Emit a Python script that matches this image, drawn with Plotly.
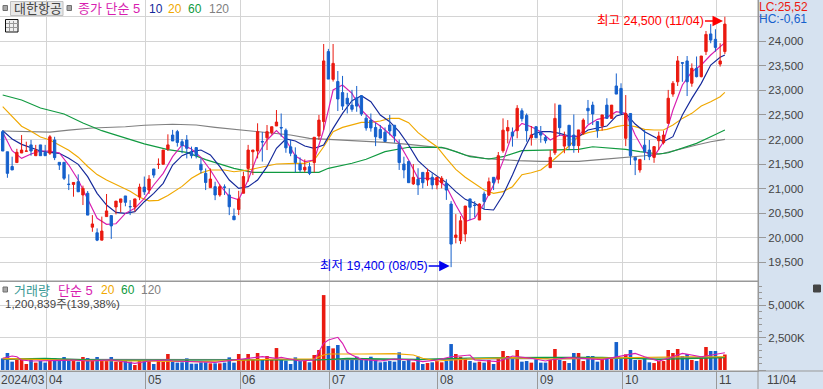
import plotly.graph_objects as go

open_ = [22160,21750,21450,21530,21725,21760,21890,21670,21890,21740,
21720,21990,21535,21535,21090,21085,21140,20870,20905,20215,
20100,19950,20430,20450,20625,20720,20850,20635,20625,20830,
21030,20970,21400,21490,21495,21805,22090,22160,21955,21990,
21740,21835,21495,21310,21020,21040,20870,21035,20870,20440,
20575,20905,21410,21750,21765,21960,22035,22140,22275,22245,
22190,21850,21685,21500,21380,21445,21530,22070,22365,23790,
23225,23180,22955,22840,22700,22850,22890,22435,22395,22245,
22205,22150,22295,22290,21895,21500,21550,21095,21190,21330,
21175,21230,21075,21120,21105,20685,20005,19940,20075,20790,
20665,20360,20890,20870,21230,21190,21770,22175,22150,22180,
22585,22490,22035,22260,22145,22045,21425,21730,22700,21865,
22290,22090,21875,22125,22635,22700,22365,22275,22700,22430,
23090,23040,22025,22530,21635,21380,21885,21785,21635,21975,
21935,22330,22925,23175,23565,23600,23145,23450,23280,23790,
24150,24040,23535,23790]
high = [22190,21750,21650,21810,22090,21955,21990,21890,21890,21890,
22090,22055,21535,21535,21290,21125,21290,21060,20950,20460,
20190,20430,20890,20450,20745,20790,20850,20765,20790,21100,
21245,21275,21400,21615,21785,22105,22195,22195,22010,22090,
21855,21835,21615,21410,21410,21140,21085,21085,21005,20595,
20955,21345,21890,21785,22330,22150,22295,22260,22600,22530,
22225,21990,21840,21635,21595,21530,22045,22500,23945,23845,
23945,23395,23295,22950,23010,23090,22905,22500,22530,22340,
22295,22245,22500,22295,22000,21650,21570,21500,21415,21330,
21405,21310,21230,21255,21190,20745,20480,20440,20645,20790,
20745,20700,20940,21225,21230,21745,22430,22395,22245,22700,
22635,22530,22275,22275,22275,22090,21785,22735,22700,22160,
22290,22510,22195,22430,22805,22770,22365,22500,22840,22700,
23345,23145,22905,22530,21635,21595,22195,21990,21855,22160,
22180,23010,23190,23700,23565,23700,23550,23690,23700,24210,
24350,24245,23960,24500]
low = [21765,21220,21380,21530,21725,21760,21670,21670,21670,21670,
21685,21580,21380,21175,20970,20835,20935,20665,20460,20120,
19930,19950,20430,19975,20475,20515,20640,20460,20530,20765,
20870,20890,21220,21400,21495,21765,21970,21855,21720,21615,
21615,21615,21310,20970,21020,20765,20835,20870,20460,20365,
20460,20905,21140,21275,21615,21550,21785,22100,22275,22055,
21730,21660,21330,21330,21330,21275,21330,21990,22195,23230,
23180,22580,22600,22530,22565,22565,22480,22180,22160,21865,
22025,21950,22085,21935,21380,21210,21120,21075,20870,21005,
21055,20985,20985,21005,20770,19400,19885,19870,19920,20360,
20415,20360,20585,20850,20970,21105,21730,21920,21855,22025,
22365,21955,21875,22035,21935,21920,21425,21685,22070,21720,
21785,21730,21730,22095,22315,22295,22035,22180,22430,22430,
22925,22530,21865,21480,21275,21325,21580,21580,21525,21785,
21900,22330,22870,23090,23175,22885,23075,23265,23265,23720,
23960,23790,23485,23740]
close = [21765,21310,21380,21740,21785,21765,21765,21785,21670,21670,
22055,21630,21480,21210,21085,21125,20935,21005,20460,20280,
19950,20135,20545,20240,20745,20790,20720,20630,20790,21030,
20935,21195,21275,21495,21785,21890,21970,21940,21875,21820,
21670,21670,21380,21125,21195,20870,21040,21025,20630,20365,
20790,21245,21785,21785,22160,21950,22160,22260,22355,22235,
21830,21720,21530,21380,21435,21310,22045,22395,23600,23230,
23550,22825,22680,22725,22615,22680,22520,22235,22235,22055,
22030,21960,22175,22070,21530,21380,21120,21230,21075,21120,
21330,21075,21230,21210,20970,19870,20055,20345,20645,20620,
20655,20685,20735,21140,21120,21670,22190,22245,22070,22635,
22425,22180,22090,22035,22090,21975,21635,22430,22240,22070,
21875,21875,22195,22395,22585,22520,22180,22500,22430,22700,
22925,22530,22530,21670,21580,21595,21750,21650,21855,22070,
22090,22840,23145,23600,23555,23175,23450,23280,23700,24140,
24025,23875,23600,24350]
volume_k = [900,1315,645,775,850,465,775,570,695,570,
695,905,695,1005,850,695,645,1005,930,720,
1005,720,695,1005,645,645,695,645,390,695,
695,695,465,775,645,1240,645,570,595,905,
490,490,595,595,515,515,515,570,980,570,
1240,775,1240,775,1315,775,1085,850,1700,775,
720,465,980,695,695,595,1160,1550,5800,1860,
1675,1935,775,905,905,1030,775,850,1030,775,
595,645,695,645,1370,695,775,595,1030,465,
540,595,695,595,695,2010,1240,1030,905,695,
570,645,570,775,465,905,1470,1085,905,1550,
645,695,570,825,570,570,775,1625,775,695,
540,1315,1315,695,1085,1085,645,850,850,850,
2165,850,1210,1550,775,775,905,595,540,695,
695,1550,1315,1625,1085,1240,775,695,1030,1780,
1470,1470,1030,1200]

ma5_x = list(range(0, 153, 2)) + [153]
ma5 = [22146,21772,21616,21704,21765,21765,21725,21480,21175,20788,20394,20272,20285,20496,20597,20801,21073,21310,21650,21888,
21806,21636,21378,21073,20835,20774,21175,21684,21990,22180,21989,21663,21549,21582,22193,23008,23110,22940,22600,22410,
22274,22112,21921,21583,21209,21209,21189,21039,20666,20327,20394,20700,21073,21560,22125,22329,22261,22159,21989,22091,
22057,22071,22295,22410,22451,22566,22532,22091,21752,21650,21955,22600,23110,23381,23517,23720,23890,23972]
ma10_x = list(range(0, 153, 2)) + [153]
ma10 = [22180,22010,21901,21833,21765,21738,21718,21616,21494,21243,20903,20665,20516,20496,20530,20733,20903,21107,21480,21670,
21752,21786,21684,21446,21175,21005,21039,21175,21446,21820,22010,21969,21867,21820,21887,22227,22533,22790,22892,22770,
22498,22363,22159,21887,21569,21392,21257,21121,20938,20781,20700,20578,20564,20870,21277,21718,22091,22159,22159,22125,
22071,22057,22193,22240,22274,22478,22532,22315,22159,22057,21955,22057,22498,22838,23143,23517,23673,23720]
ma20_x = [0,2,4,6,8,10,12,14,16,18,20,22,24,27,29,31,33,35,38,40,42,44,47,49,52,54,56,58,60,62,64,66,68,70,72,74,76,78,80,82,84,86,88,90,92,94,96,98,100,102,104,106,108,110,112,114,116,118,120,122,124,126,128,130,132,134,136,138,140,142,144,146,148,150,152,153]
ma20 = [22668,22470,22270,22170,22050,21990,21880,21780,21640,21450,21285,21175,21085,20945,20825,20750,20760,20860,21045,21210,21320,21378,21378,21344,21378,21426,21460,21500,21515,21515,21515,21580,21853,22159,22247,22295,22349,22349,22376,22430,22430,22342,22139,21989,21853,21616,21392,21230,21094,20972,20904,20938,21039,21283,21324,21378,21527,21704,21867,22071,22139,22179,22206,22261,22295,22261,22206,22193,22193,22295,22430,22532,22682,22770,22872,22960]
ma60_x = [0,4,8,13,17,21,23,26,30,35,39,43,46,49,53,57,67,69,74,77,81,86,93,96,99,103,106,110,116,122,125,127,132,135,139,141,144,147,150,153]
ma60 = [22906,22804,22640,22519,22336,22180,22120,22030,21910,21795,21738,21590,21494,21412,21331,21331,21331,21413,21515,21596,21752,21841,21841,21752,21650,21603,21650,21772,21785,21799,21853,21840,21799,21752,21704,21731,21820,21921,22057,22193]
ma120_x = [0,4,10,14,19,26,30,36,41,45,49,55,61,65,69,76,81,86,91,94,98,102,105,109,114,122,127,132,136,140,144,147,150,153]
ma120 = [22173,22159,22150,22190,22235,22260,22290,22310,22295,22248,22207,22159,22091,22023,22003,21969,21942,21901,21853,21820,21684,21616,21596,21569,21555,21555,21595,21636,21670,21718,21820,21887,21955,22003]

vma5_x = [0,2,3,4,6,10,13,15,18,23,28,31,35,36,42,45,49,52,55,58,59,60,63,66,67,68,69,71,72,73,74,76,80,83,87,89,92,95,99,100,105,108,112,115,116,120,127,130,134,136,139,141,144,148,151,153]
vma5 = [905,1085,1030,775,695,695,750,775,695,775,515,695,775,695,595,595,775,905,1030,905,980,905,695,775,1470,2065,2320,2530,2065,1370,1160,825,695,850,775,645,775,1030,1160,775,645,1085,905,695,775,955,800,1030,1290,1030,695,905,1290,1030,1240,1340]
vma20_x = [0,14,28,42,58,66,68,69,76,83,87,89,92,99,108,115,116,123,130,137,144,153]
vma20 = [905,750,695,645,850,850,1160,1240,1240,1265,1160,905,695,850,955,905,850,905,955,980,1030,1030]
vma60_x = [0,9,21,35,58,67,73,88,99,115,127,139,153]
vma60 = [850,905,750,775,775,775,905,825,930,980,980,825,955]
vma120_x = [0,30,58,60,88,115,116,153]
vma120 = [825,825,825,850,800,905,850,980]

price_ticks = [19500,20000,20500,21000,21500,22000,22500,23000,23500,24000,24500]
price_labels = ["19,500","20,000","20,500","21,000","21,500","22,000","22,500","23,000","23,500","24,000",""]
vol_ticks = [0,2500,5000]
vol_labels = ["","2,500K","5,000K"]
vol_minor = [500,1000,1500,2000,3000,3500,4000,4500,5500,6000,6500]
month_pos = [9.36,30.3,50.3,69.3,92.2,113.4,131.4,151.3]
month_names = ["04","05","06","07","08","09","10","11"]
n = len(close)
xs = list(range(n))

RED = "#ea1a10"
BLUE = "#1560cc"
MAG = "#d81eb0"
NAVY = "#14289a"
ORG = "#f0a800"
GRN = "#109a40"
GRY = "#808080"
AXIS = "#999999"
GRID = "#d4d4d4"
TXT = "#444444"
FONT = "Liberation Sans, Noto Sans CJK KR"

fig = go.Figure()
def line(x, y, color, xa, ya):
    fig.add_trace(go.Scatter(x=x, y=y, mode="lines", line=dict(color=color, width=1.15),
                             xaxis=xa, yaxis=ya, showlegend=False, hoverinfo="skip"))

for xv, yv, c in [(ma120_x, ma120, GRY), (ma60_x, ma60, GRN), (ma20_x, ma20, ORG), (ma10_x, ma10, NAVY), (ma5_x, ma5, MAG)]:
    line(xv, yv, c, "x2", "y")

fig.add_trace(go.Candlestick(x=xs, open=open_, high=high, low=low, close=close,
    increasing=dict(line=dict(color=RED, width=1), fillcolor=RED),
    decreasing=dict(line=dict(color=BLUE, width=1), fillcolor=BLUE),
    whiskerwidth=0, xaxis="x3", yaxis="y3", showlegend=False, hoverinfo="skip"))

bar_colors = [RED if c >= o else BLUE for o, c in zip(open_, close)]
fig.add_trace(go.Bar(x=xs, y=volume_k, marker=dict(color=bar_colors, line=dict(width=0)), width=0.76,
                     xaxis="x", yaxis="y2", showlegend=False, hoverinfo="skip"))
for xv, yv, c in [(vma120_x, vma120, GRY), (vma60_x, vma60, GRN), (vma20_x, vma20, ORG), (vma5_x, vma5, MAG)]:
    line(xv, yv, c, "x", "y2")

X_RANGE = [-0.572, 160.02]
P_RANGE = [19118, 24841]
V_RANGE = [-77, 6890]
bottom_frac = 90 / 371
common_x = dict(range=X_RANGE, tickmode="array", tickvals=month_pos, showgrid=True, gridcolor=GRID,
                gridwidth=1, zeroline=False, showticklabels=False)

fig.update_layout(
    width=823, height=389, margin=dict(l=0, r=65, t=0, b=18),
    paper_bgcolor="#d6e2f0", plot_bgcolor="#ffffff",
    font=dict(family=FONT, size=12, color=TXT), showlegend=False, barmode="overlay",
    xaxis=dict(**common_x, domain=[0, 1], anchor="y2", ticks="outside", ticklen=18, tickcolor=AXIS, tickwidth=1,
               showline=True, linecolor=AXIS, linewidth=1),
    xaxis2=dict(**common_x, domain=[0, 1], anchor="y", ticks="", showline=True, linecolor=AXIS, linewidth=1),
    xaxis3=dict(range=X_RANGE, domain=[0, 1], anchor="y3", visible=False, overlaying="x2", rangeslider=dict(visible=False)),
    yaxis=dict(domain=[bottom_frac, 1], range=P_RANGE, side="right", anchor="x2", tickmode="array",
               tickvals=price_ticks, ticktext=price_labels, showgrid=True, gridcolor=GRID, zeroline=False,
               ticks="outside", ticklen=7, tickcolor=AXIS, showline=True, linecolor=AXIS,
               tickfont=dict(size=11.5, color=TXT, family=FONT)),
    yaxis3=dict(domain=[bottom_frac, 1], range=P_RANGE, side="right", anchor="x3", overlaying="y", visible=False),
    yaxis2=dict(domain=[0, bottom_frac], range=V_RANGE, side="right", anchor="x", tickmode="array",
                tickvals=vol_ticks, ticktext=vol_labels, showgrid=True, gridcolor=GRID, zeroline=False,
                ticks="outside", ticklen=7, tickcolor=AXIS, showline=True, linecolor=AXIS,
                tickfont=dict(size=11.5, color=TXT, family=FONT),
                minor=dict(tickmode="array", tickvals=vol_minor, ticks="outside", ticklen=3, tickcolor=AXIS, showgrid=False)),
)

W, H = 758.0, 371.0
def px(x): return x / W
def py(y): return 1 - y / H

shapes = [
    dict(type="line", xref="paper", yref="paper", x0=1, x1=1, y0=py(389), y1=1, line=dict(color=AXIS, width=1)),
    dict(type="line", xref="paper", yref="paper", x0=0, x1=823 / W, y0=py(371), y1=py(371), line=dict(color=AXIS, width=1)),
    dict(type="line", xref="paper", yref="paper", x0=0, x1=1, y0=py(281), y1=py(281), line=dict(color=AXIS, width=1)),
]
def box(x0, y0, x1, y1, fill, edge, w=1):
    shapes.append(dict(type="rect", xref="paper", yref="paper", x0=px(x0), x1=px(x1), y0=py(y1), y1=py(y0),
                       fillcolor=fill, line=dict(color=edge, width=w), layer="above"))
box(3, 5.5, 7.5, 10.5, "#a8a8a8", "#707070")
box(10.5, 1.5, 63, 15.5, "#e8e8e8", "#c0c0c0")
box(67, 5.5, 71.5, 10.5, "#a8a8a8", "#707070")
box(3, 287, 7.5, 292, "#a8a8a8", "#707070")
box(5.5, 19.5, 18, 32, "#f0f0f0", "#111111")
for gx in (9.5, 13.5):
    shapes.append(dict(type="line", xref="paper", yref="paper", x0=px(gx), x1=px(gx), y0=py(31), y1=py(21), line=dict(color="#999999", width=1), layer="above"))
for gy in (23.5, 27.5):
    shapes.append(dict(type="line", xref="paper", yref="paper", x0=px(6), x1=px(18), y0=py(gy), y1=py(gy), line=dict(color="#999999", width=1), layer="above"))
box(813.5, 285, 820.5, 292, "#444444", "#444444")
fig.update_layout(shapes=shapes)

def label(text, x, y, color, anchor="left", size=12):
    fig.add_annotation(text=text, xref="paper", yref="paper", x=px(x), y=py(y), xanchor=anchor, yanchor="middle",
                       showarrow=False, font=dict(color=color, size=size, family=FONT), borderpad=0, borderwidth=0)

label("대한항공", 13.5, 8.5, TXT, size=13)
label("종가 단순 5", 78, 8.5, MAG, size=13)
label("10", 149, 8.5, NAVY)
label("20", 168, 8.5, ORG)
label("60", 188, 8.5, GRN)
label("120", 209, 8.5, GRY)
label("거래량", 14, 290, "#3a9a96", size=13)
label("단순 5", 58, 290, MAG, size=13)
label("20", 101, 290, ORG)
label("60", 121, 290, GRN)
label("120", 141, 290, GRY)
label("1,200,839주(139,38%)", 5, 304, TXT, size=11.5)
label("LC:25,52", 759, 7.5, RED)
label("HC:-0,61", 759, 18.5, BLUE)
label("11/04", 767, 380, TXT)
label("2024/03", 1, 380, TXT)
for pos, name in zip(month_pos, month_names):
    fig.add_annotation(text=name, xref="x", yref="paper", x=pos, y=py(380), xanchor="left", yanchor="middle",
                       xshift=1, showarrow=False, font=dict(color=TXT, size=12, family=FONT), borderpad=0)

fig.add_annotation(text="최고 24,500 (11/04)", xref="x3", yref="y3", x=152.6, y=24415, ax=-18, ay=0, xanchor="right",
                   showarrow=True, arrowcolor="#ff0000", arrowhead=2, arrowsize=1.4, arrowwidth=1.5,
                   font=dict(color="#ff0000", size=12.5, family=FONT), borderpad=0)
fig.add_annotation(text="최저 19,400 (08/05)", xref="x3", yref="y3", x=94.7, y=19425, ax=-21, ay=0, xanchor="right",
                   showarrow=True, arrowcolor="#0000ee", arrowhead=2, arrowsize=1.4, arrowwidth=1.5,
                   font=dict(color="#0000ee", size=12.5, family=FONT), borderpad=0)

fig.write_html("out.html", config=dict(displayModeBar=False),
               post_script="document.body.style.margin='0';document.documentElement.style.overflow='hidden';")
